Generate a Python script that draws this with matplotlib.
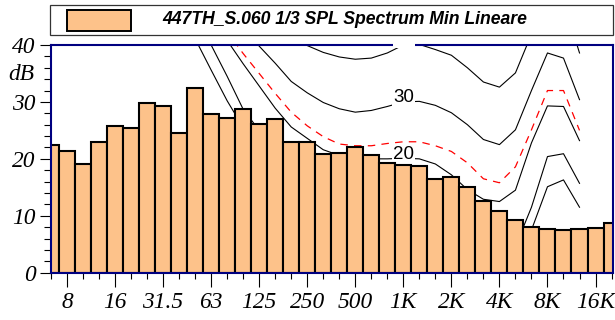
import numpy as np
import matplotlib.pyplot as plt
from matplotlib.patches import Rectangle

# 1/3 octave band centres shown on the chart
bands = ['6.3', '8', '10', '12.5', '16', '20', '25', '31.5', '40', '50', '63', '80',
         '100', '125', '160', '200', '250', '315', '400', '500', '630', '800',
         '1K', '1.25K', '1.6K', '2K', '2.5K', '3.15K', '4K', '5K', '6.3K', '8K',
         '10K', '12.5K', '16K', '20K']
spl_min = [22.5, 21.4, 19.1, 22.9, 25.7, 25.4, 29.8, 29.3, 24.5, 32.5, 27.8, 27.2,
           28.8, 26.2, 27.0, 23.0, 22.9, 20.9, 21.0, 22.1, 20.7, 19.3,
           18.9, 18.7, 16.4, 16.8, 15.0, 12.6, 10.9, 9.2, 8.0, 7.7,
           7.5, 7.7, 7.9, 8.8]
tick_labels = ['8', '16', '31.5', '63', '125', '250', '500', '1K', '2K', '4K', '8K', '16K']

# isophonic curves, 6.3 Hz .. 12.5 kHz
iso_0 = [104, 96, 88, 80, 73, 66, 59.5, 53, 47, 41.1, 35.6, 30.2, 25.5, 21.5, 18, 15,
         12.5, 10, 8, 6.5, 5, 4, 2, 1.5, 0.5, -1, -2.5, -4, -4.5, -2.5, 7.5, 15.1, 16.3, 11.5]
iso_10 = [106, 98, 90, 83, 76, 70, 64, 58, 52, 46, 40.0, 34.5, 28.7, 25.0, 21.5, 18.5,
          16, 14, 12.5, 11, 10.5, 10.2, 10, 10, 9.2, 7.5, 5, 3.5, 3.0, 4.6, 11.5, 20.4, 20.9, 15.7]
iso_20 = [108, 100, 92, 84, 77, 70, 64.5, 59, 54, 49.5, 45, 40.8, 36.7, 32.8, 28.9, 25.6,
          23.6, 21.6, 20.6, 20.1, 20.0, 20.0, 20.1, 20.0, 19.1, 17.2, 14.6, 12.9, 12.5, 14.5,
          22.8, 29.3, 29.2, 23.2]
iso_30 = [118, 108, 99, 91, 84, 78, 72, 67, 62, 57.5, 53, 48, 43.5, 39.8, 36.8, 33.6,
          31.6, 29.9, 28.8, 28.2, 28.5, 29.2, 30.0, 30.1, 29.4, 28.1, 26.0, 23.4, 22.5, 25.1,
          32.0, 38.6, 37.7, 30.4]
iso_40 = [125, 115, 106, 98, 91, 84, 78, 72.5, 67, 62, 57, 53, 49, 45.5, 43, 41.2,
          39.9, 38.7, 37.9, 37.5, 37.7, 38.6, 40.0, 40.1, 39.2, 38.2, 36.0, 33.5, 32.6, 35.1,
          41.9, 48.5, 47.7, 38.6]
loudness = [108, 98, 89, 81, 74, 67, 61, 56, 52, 48.5, 45.5, 42.3, 38.5, 35.0, 31.5, 28.2,
            25.8, 23.9, 22.6, 22.3, 22.3, 22.7, 23.0, 23.0, 22.3, 21.3, 19.3, 16.5, 15.8, 18.6,
            25.1, 32.0, 32.0, 25.0]

serif = dict(family='Liberation Serif', style='italic', size=16.8)
navy = '#000080'
bar_color = '#FDC28A'

fig = plt.figure(figsize=(6.15, 3.2), dpi=100)
ax = fig.add_axes([50.5 / 615, 1 - 272.7 / 320, 562 / 615, 227.7 / 320])

x = np.arange(len(bands))
xc = np.arange(len(iso_0))

for curve in [iso_0, iso_10, iso_20, iso_30, iso_40]:
    ax.plot(xc, curve, color='black', lw=0.8, zorder=1)
ax.plot(xc, loudness, color='red', lw=0.9, ls=(0, (6, 5)), zorder=1)

for lvl in [20, 30]:
    ax.text(22, lvl, str(lvl), ha='center', va='baseline', fontsize=13.5,
            family='Liberation Sans', zorder=1.5,
            bbox=dict(fc='white', ec='none', pad=0.8))

ax.bar(x, spl_min, width=1.0, color=bar_color, edgecolor='black', lw=1.5, zorder=2)

ax.set_xlim(-0.03, 35.06)
ax.set_ylim(0, 40)

# clipped "40" label: its white box cuts the top frame
ax.add_patch(Rectangle((21.35, 0.985), 1.4, 0.03, transform=ax.get_xaxis_transform(),
                       fc='white', ec='none', clip_on=False, zorder=5))

for s in ax.spines.values():
    s.set_color(navy)
    s.set_linewidth(1.5)

ax.set_yticks([0, 10, 20, 30, 40])
ax.set_yticks(np.arange(0, 41, 2), minor=True)
ax.set_yticklabels(['0', '10', '20', '30', '40'], **serif)
ax.set_xticks(np.arange(1, 35, 3))
ax.set_xticks(x, minor=True)
ax.set_xticklabels(tick_labels, **serif)
ax.tick_params(axis='y', which='major', length=8, width=0.8, pad=2.5)
ax.tick_params(axis='y', which='minor', length=5, width=0.8)
ax.tick_params(axis='x', which='major', length=10, width=0.8, pad=4)
ax.tick_params(axis='x', which='minor', length=4.5, width=0.8)

fig.text(21 / 615, 1 - 75 / 320, 'dB', ha='center', va='center', **serif)

# legend box
fig.patches.append(Rectangle((50 / 615, 1 - 35 / 320), 563 / 615, 30 / 320,
                             transform=fig.transFigure, fc='white', ec='#333333', lw=0.9))
fig.patches.append(Rectangle((67 / 615, 1 - 31 / 320), 64 / 615, 21 / 320,
                             transform=fig.transFigure, fc=bar_color, ec='black', lw=1.4))
fig.text(162 / 615, 1 - 20 / 320, '447TH_S.060 1/3 SPL Spectrum Min Lineare',
         ha='left', va='center', fontsize=12.7, family='Liberation Sans',
         weight='bold', style='italic')

fig.savefig('out.png', dpi=100)
